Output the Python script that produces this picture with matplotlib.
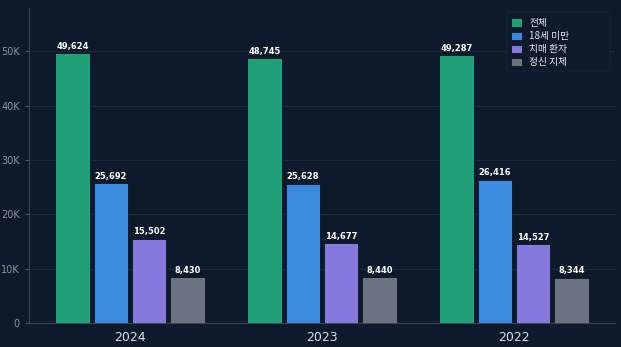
import matplotlib
matplotlib.use("Agg")
import matplotlib.pyplot as plt
from matplotlib.patches import FancyBboxPatch
import numpy as np

plt.rcParams['font.family'] = ['DejaVu Sans', 'Noto Sans CJK KR']

years = ['2024', '2023', '2022']
series_names = ['전체', '18세 미만', '치매 환자', '정신 지체']
total = [49624, 48745, 49287]
under18 = [25692, 25628, 26416]
dementia = [15502, 14677, 14527]
disabled = [8430, 8440, 8344]
colors = ['#1fa077', '#3a8ae0', '#8479dd', '#6b7280']

bg = '#0e1a2b'
W, H = 621, 347
fig = plt.figure(figsize=(6.21, 3.47), dpi=100, facecolor=bg)
ax = fig.add_axes([29/W, 1 - 323/H, (615-29)/W, (323-8)/H])
ax.set_facecolor(bg)

x = np.arange(len(years))
w = 0.18
step = 0.2
data = [total, under18, dementia, disabled]
for i, (vals, name, c) in enumerate(zip(data, series_names, colors)):
    pos = x + (i - 1.5) * step
    bars = ax.bar(pos, vals, w, color=c, label=name, edgecolor='#0b1422', linewidth=0.6, zorder=3)
    for b, v in zip(bars, vals):
        ax.text(b.get_x() + b.get_width()/2, v + 450, f'{v:,}', ha='center', va='bottom',
                color='white', fontsize=6, fontweight='bold', zorder=4)

ax.set_xlim(-0.526, 2.526)
ax.set_ylim(0, 58000)
ax.set_yticks([0, 10000, 20000, 30000, 40000, 50000])
ax.set_yticklabels(['0', '10K', '20K', '30K', '40K', '50K'])
ax.set_xticks(x)
ax.set_xticklabels(years)
ax.tick_params(axis='y', colors='#8a93a3', labelsize=7, length=3, color='#4a5566')
ax.tick_params(axis='x', colors='#d8dde5', labelsize=9, length=0, pad=6)
ax.grid(axis='y', color='#1e2a3b', linewidth=0.8, zorder=0)
for s in ['top', 'right']:
    ax.spines[s].set_visible(False)
for s in ['left', 'bottom']:
    ax.spines[s].set_color('#3a4555')
    ax.spines[s].set_linewidth(0.8)

# faint legend frame
frame = FancyBboxPatch((507/W, 1 - 71/H), 103/W, 59/H, boxstyle='round,pad=0,rounding_size=0.004',
                       transform=fig.transFigure, facecolor=bg, edgecolor='#17243a',
                       linewidth=0.6, zorder=5, clip_on=False)
ax.add_patch(frame)

leg = ax.legend(loc='upper left', fontsize=7, frameon=False,
                labelcolor='#e5e8ee', handlelength=1.15, handleheight=0.95, handletextpad=0.75,
                labelspacing=0.32, borderpad=0, borderaxespad=0,
                bbox_to_anchor=(511/W, 1 - 18/H), bbox_transform=fig.transFigure)
leg.set_zorder(6)
for t in leg.get_texts():
    t.set_family(['Noto Sans CJK KR', 'DejaVu Sans'])

fig.savefig('out.png', dpi=100, facecolor=bg)
